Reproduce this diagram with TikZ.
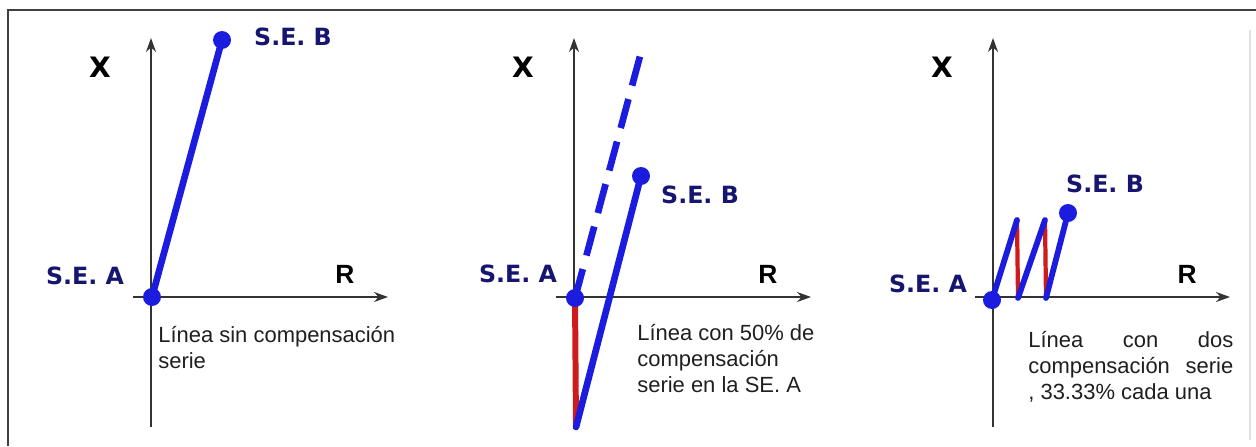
\documentclass[tikz,border=0pt]{standalone}
\usepackage{fontspec}
\setmainfont{Liberation Sans}
\newfontfamily\verdana{DejaVu Sans}
\usetikzlibrary{arrows.meta}

\definecolor{lineblue}{RGB}{28,28,222}
\definecolor{seblue}{RGB}{22,22,112}
\definecolor{compred}{RGB}{205,28,28}

\begin{document}
\begin{tikzpicture}[x=0.02cm, y=-0.02cm,
      ax/.style={draw=black!80, line width=0.8pt, -{Stealth[length=2.8mm, width=2mm]}},
      imp/.style={draw=lineblue, line width=3.8pt, line cap=round},
      comp/.style={draw=compred, line width=3.4pt},
      dot/.style={circle, fill=lineblue, inner sep=0pt, minimum size=0.36cm},
      se/.style={font=\verdana\bfseries\fontsize{13.5}{15}\selectfont, text=seblue, inner sep=0pt},
      xlbl/.style={font=\verdana\bfseries\fontsize{16}{18}\selectfont, inner sep=0pt},
      rlbl/.style={font=\bfseries\fontsize{15}{17}\selectfont, inner sep=0pt},
      note/.style={font=\fontsize{12.5}{14.8}\selectfont, align=left, anchor=north west,
        inner sep=0pt, text=black!88}
    ]
    \useasboundingbox (0,0) rectangle (1256,446);
    % frame
    \draw[black!75, line width=0.8pt] (8,446) -- (8,10) -- (1256,10);
    \draw[black!12, line width=0.6pt] (1250,30) -- (1250,440);

    % axes of the three panels
    \foreach \i/\x in {1/151, 2/574, 3/993} {
      \coordinate (vb\i) at (\x,427);
      \coordinate (vt\i) at (\x,38);
      \coordinate (hl\i) at (\x-18,297);
      \coordinate (hr\i) at (\x+237,297);
      \draw[ax] (vb\i) -- (vt\i);
      \draw[ax] (hl\i) -- (hr\i);
      \node[xlbl] (X\i) at (\x-51,67) {X};
      \node[rlbl] (R\i) at (\x+194,274) {R};
    }

    % line without compensation
    \coordinate (a1) at (152,297);
    \coordinate (b1) at (222,40);
    \draw[imp] (a1) -- (b1);
    \node[dot] (pa1) at (a1) {};
    \node[dot] (pb1) at (b1) {};
    \node[se] (sea1) at (85,276) {S.E. A};
    \node[se] (seb1) at (293,37) {S.E. B};
    \node[note] (n1) at (158,326) {Línea sin compensación\\serie};

    % 50% compensation at S.E. A
    \coordinate (a2) at (575,298);
    \coordinate (k2) at (576,427);
    \coordinate (b2) at (641,176);
    \coordinate (d2) at (643,45);
    \draw[comp] (a2) -- (k2);
    \draw[imp] (k2) -- (b2);
    \draw[imp, line cap=butt, dash pattern=on 0.6cm off 0.28cm] (a2) -- (d2);
    \node[dot] (pa2) at (a2) {};
    \node[dot] (pb2) at (b2) {};
    \node[se] (sea2) at (518,274) {S.E. A};
    \node[se] (seb2) at (700,195) {S.E. B};
    \node[note] (n2) at (637,324) {Línea con 50\% de\\compensación\\serie en la SE. A};

    % two compensations, 33.33% each
    \coordinate (a3) at (992,300);
    \coordinate (t31) at (1017,220);
    \coordinate (f31) at (1018,298);
    \coordinate (t32) at (1045,220);
    \coordinate (f32) at (1046,298);
    \coordinate (b3) at (1068,213);
    \draw[comp, line width=2.4pt] (t31) -- (f31);
    \draw[comp, line width=2.4pt] (t32) -- (f32);
    \draw[imp, line width=3.3pt] (a3) -- (t31);
    \draw[imp, line width=3.3pt] (f31) -- (t32);
    \draw[imp, line width=3.3pt] (f32) -- (b3);
    \node[dot] (pa3) at (a3) {};
    \node[dot] (pb3) at (b3) {};
    \node[se] (sea3) at (928,284) {S.E. A};
    \node[se] (seb3) at (1105,184) {S.E. B};
    \node[note] (n3) at (1028,331) {\makebox[4.1cm][s]{Línea con dos}\\
      \makebox[4.1cm][s]{compensación serie}\\, 33.33\% cada una};
  \end{tikzpicture}
\end{document}
